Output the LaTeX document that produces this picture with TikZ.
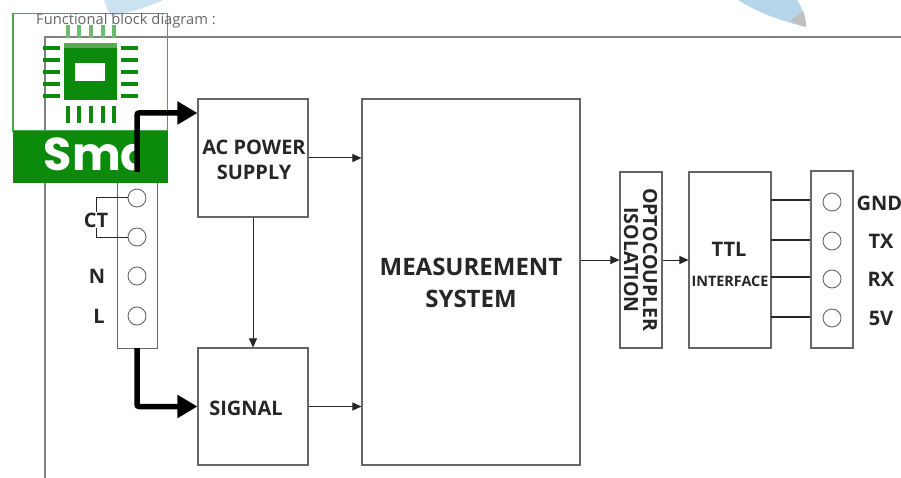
\documentclass[tikz,border=0pt]{standalone}
\usepackage{fontspec}
\setmainfont{Open Sans}
\newfontfamily\logofont{Poppins}
\usetikzlibrary{arrows.meta}
\definecolor{ln}{HTML}{666666}
\definecolor{ink}{HTML}{262626}
\definecolor{smd}{HTML}{0B8A0B}
\definecolor{blob}{HTML}{B5D6EA}
\tikzset{
  x=1pt,y=-1pt,
  block/.style={draw=ln,line width=1.1pt,fill=white,inner sep=0pt,align=center,text=ink,font=\bfseries\fontsize{20}{25}\selectfont},
  port/.style={circle,draw=ln,line width=0.9pt,fill=white,minimum size=18pt,inner sep=0pt},
  lab/.style={text=ink,inner sep=0pt,font=\bfseries\fontsize{20}{22}\selectfont},
  thin arrow/.style={draw=ink,line width=1pt,-{Triangle[length=9pt,width=8pt]}},
  thick arrow/.style={draw=black,line width=5.5pt,rounded corners=2pt,-{Triangle[length=20pt,width=22pt]}},
  wire/.style={draw=ink,line width=1.8pt},
  ctwire/.style={draw=ink,line width=1pt},
  pin/.style={draw=smd,line width=3.4pt},
  fadepin/.style={draw=smd!60,line width=3.4pt},
}
\begin{document}
\begin{tikzpicture}
\useasboundingbox (0,0) rectangle (901,478);
\fill[white] (0,0) rectangle (901,478);
% background artefacts
\fill[blob] (738,0) .. controls (760,14) and (785,22) .. (806,27) .. controls (806,17) and (802,8) .. (797,0) -- cycle;
\fill[black!25] (790,21) .. controls (796,24) and (801,25) .. (806,27) .. controls (806,22) and (805,16) .. (803,11) -- cycle;
\fill[blob!70] (104,0) .. controls (106,6) and (108,12) .. (112,16) .. controls (130,13) and (150,6) .. (163,0) -- cycle;
% frame
\coordinate (ftl) at (45,37);
\coordinate (ftr) at (901,37);
\coordinate (fbl) at (45,478);
\draw[black!50,line width=1.1pt] (ftr) -- (ftl) -- (fbl);
% logo outline and chip
\draw[smd!75,line width=1.2pt] (13,13.5) rectangle (167.5,131);
\fill[smd] (64,43) rectangle (117,100);
\fill[smd!70] (64,43) rectangle (117,48);
\fill[white] (75,63) rectangle (105,81);
\foreach \y in {48,60,72,84,96}{
  \draw[pin] (43,\y) -- (60,\y);
  \draw[pin] (121,\y) -- (138,\y);
}
\foreach \x in {68,79,91,103,114}{
  \draw[fadepin] (\x,25) -- (\x,38);
  \draw[pin] (\x,106) -- (\x,123);
}
\node[text=ln,inner sep=0pt,anchor=west,font=\fontsize{14.7}{16}\selectfont] (title) at (36,21) {Functional block diagram :};
% terminal strip
\node[block,minimum width=40pt,minimum height=178pt,line width=0.9pt] (strip) at (137,259) {};
% logo band
\fill[smd] (12.5,131) rectangle (168,183);
\begin{scope}
\clip (13,131) rectangle (137,183);
\node[text=white,inner sep=0pt,anchor=center,font=\logofont\bfseries\fontsize{46}{46}\selectfont] (smdtext) at (98,154) {Smd};
\end{scope}
% blocks
\node[block,minimum width=110pt,minimum height=118pt] (ac) at (253,158) {};
\node[text=ink,inner sep=0pt,align=center,font=\bfseries\fontsize{20}{25}\selectfont] (actext) at (254,160) {AC POWER\\SUPPLY};
\node[block,minimum width=110pt,minimum height=117pt] (signal) at (253,406.5) {};
\node[lab] (signaltext) at (246,408) {SIGNAL};
\node[block,minimum width=218pt,minimum height=366pt] (meas) at (471,282) {};
\node[text=ink,inner sep=0pt,align=center,font=\bfseries\fontsize{24}{32}\selectfont] (meastext) at (471,283) {MEASUREMENT\\SYSTEM};
\node[block,minimum width=42pt,minimum height=176pt] (opto) at (641,260) {};
\node[text=ink,inner sep=0pt,align=center,rotate=-90,font=\bfseries\fontsize{19.5}{19}\selectfont] (optotext) at (640.5,260) {OPTOCOUPLER\\ISOLATION};
\node[block,minimum width=82pt,minimum height=176pt] (ttl) at (730,260) {};
\node[lab,font=\bfseries\fontsize{20}{24}\selectfont] (ttltext) at (729,249) {TTL};
\node[lab,font=\bfseries\fontsize{14.4}{16}\selectfont] (ifacetext) at (730,281) {INTERFACE};
\node[block,minimum width=42pt,minimum height=177pt] (conn) at (832,259.5) {};
% strip ports
\node[port] (p1) at (137,198) {};
\node[port] (p2) at (137,237) {};
\node[port] (p3) at (137,276) {};
\node[port] (p4) at (137,316) {};
\node[lab] (ct) at (96,220) {CT};
\node[lab] (nl) at (97,276) {N};
\node[lab] (ll) at (99,316) {L};
\coordinate (cta) at (96,198);
\coordinate (ctb) at (96,237);
\draw[ctwire] (p1) -- (cta) -- (ct.north -| cta);
\draw[ctwire] (p2) -- (ctb) -- (ct.south -| ctb);
% connector ports
\node[port] (q1) at (832,202) {};
\node[port] (q2) at (832,241) {};
\node[port] (q3) at (832,279) {};
\node[port] (q4) at (832,318) {};
\node[lab] (gnd) at (879.5,203) {GND};
\node[lab] (tx) at (881,241) {TX};
\node[lab] (rx) at (881,279) {RX};
\node[lab] (fv) at (881,318) {5V};
\foreach \y/\n in {200/a,240/b,277/c,317/d}{
  \coordinate (w\n) at (771,\y);
  \draw[wire] (w\n) -- (w\n -| conn.west);
}
% arrows
\draw[thin arrow] (ac.south) -- (signal.north);
\draw[thin arrow] (ac.east) -- (ac.east -| meas.west);
\draw[thin arrow] (signal.east) -- (signal.east -| meas.west);
\draw[thin arrow] (meas.east |- opto.west) -- (opto.west);
\draw[thin arrow] (opto.east) -- (ttl.west);
% thick arrows
\coordinate (tu) at (137,172);
\coordinate (tl) at (137,348);
\coordinate (ta) at (137,113);
\coordinate (tb) at (137,406.5);
\draw[thick arrow] (tu) -- (ta) -- (ta -| ac.west);
\draw[thick arrow] (tl) -- (tb) -- (signal.west);
\end{tikzpicture}
\end{document}
